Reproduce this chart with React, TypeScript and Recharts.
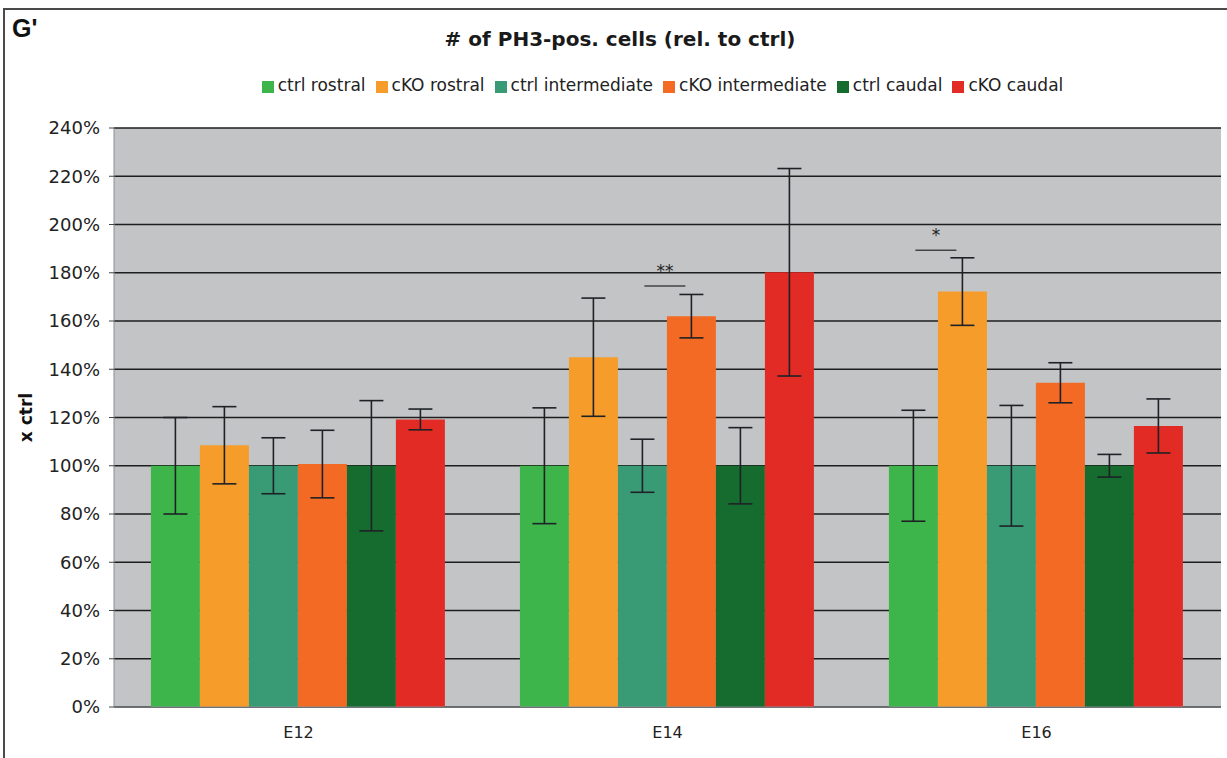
import React from "react";
import {
  BarChart,
  Bar,
  XAxis,
  YAxis,
  CartesianGrid,
  Legend,
  ErrorBar,
  LabelList
} from "recharts";

// stages on the x axis
const categories = ["E12", "E14", "E16"];

// mean values, % of ctrl
const ctrlRostral = [100, 100, 100];
const ckoRostral = [108.5, 145, 172.2];
const ctrlIntermediate = [100, 100, 100];
const ckoIntermediate = [100.7, 162, 134.4];
const ctrlCaudal = [100, 100, 100];
const ckoCaudal = [119.2, 180.2, 116.5];

// error bars (+/-)
const ctrlRostralErr = [20, 24, 23];
const ckoRostralErr = [16, 24.5, 14];
const ctrlIntermediateErr = [11.6, 11, 25];
const ckoIntermediateErr = [14, 9, 8.3];
const ctrlCaudalErr = [27, 15.8, 4.7];
const ckoCaudalErr = [4.3, 43, 11.2];

// significance brackets (level in %, label)
const sigIntermediateLevel = [null, 174.5, null];
const sigIntermediateText = ["", "**", ""];
const sigRostralLevel = [null, null, 189.3];
const sigRostralText = ["", "", "*"];

const yTicks = [0, 20, 40, 60, 80, 100, 120, 140, 160, 180, 200, 220, 240];

const series = [
  { key: "ctrlRostral", name: "ctrl rostral", color: "#3db54a" },
  { key: "ckoRostral", name: "cKO rostral", color: "#f69c2a" },
  { key: "ctrlIntermediate", name: "ctrl intermediate", color: "#399b76" },
  { key: "ckoIntermediate", name: "cKO intermediate", color: "#f26a23" },
  { key: "ctrlCaudal", name: "ctrl caudal", color: "#166c2e" },
  { key: "ckoCaudal", name: "cKO caudal", color: "#e32b25" }
];
const seriesNames = series.map((s) => s.name);

const data = categories.map((c, i) => ({
  stage: c,
  ctrlRostral: ctrlRostral[i],
  ckoRostral: ckoRostral[i],
  ctrlIntermediate: ctrlIntermediate[i],
  ckoIntermediate: ckoIntermediate[i],
  ctrlCaudal: ctrlCaudal[i],
  ckoCaudal: ckoCaudal[i],
  ctrlRostralErr: ctrlRostralErr[i],
  ckoRostralErr: ckoRostralErr[i],
  ctrlIntermediateErr: ctrlIntermediateErr[i],
  ckoIntermediateErr: ckoIntermediateErr[i],
  ctrlCaudalErr: ctrlCaudalErr[i],
  ckoCaudalErr: ckoCaudalErr[i],
  sigInt: sigIntermediateLevel[i],
  sigRos: sigRostralLevel[i]
}));

const FONT = "'DejaVu Sans', Verdana, sans-serif";

// draws a bracket from the ctrl bar (left neighbour) to this bar
function makeSig(valueKey: string, texts: string[]) {
  return (props: any) => {
    const { x, y, width, height, value, index } = props;
    if (value == null || index == null) return null;
    const barVal = (data as any)[index][valueKey];
    const ppu = height / barVal;
    const ly = y + height - value * ppu;
    const x1 = x - width / 2 + 2;
    const x2 = x + width / 2 - 6;
    return (
      <g>
        <line x1={x1} x2={x2} y1={ly} y2={ly} stroke="#444" strokeWidth={1.5} />
        <text
          x={(x1 + x2) / 2}
          y={ly - 9}
          textAnchor="middle"
          fontSize={17}
          fill="#222"
          fontFamily={FONT}
        >
          {texts[index]}
        </text>
      </g>
    );
  };
}

export default function App() {
  return (
    <div
      style={{
        position: "absolute",
        left: 0,
        top: 0,
        width: 1227,
        height: 758,
        background: "#fff",
        overflow: "hidden",
        fontFamily: FONT
      }}
    >
      <div
        style={{
          position: "absolute",
          left: 3,
          top: 8,
          width: 1240,
          height: 770,
          borderLeft: "2px solid #4a4a4a",
          borderTop: "2px solid #4a4a4a"
        }}
      />
      <div
        style={{
          position: "absolute",
          left: 12,
          top: 14,
          fontFamily: "'Liberation Sans', Arial, sans-serif",
          fontWeight: "bold",
          fontSize: 25,
          color: "#111"
        }}
      >
        G'
      </div>
      <div
        style={{
          position: "absolute",
          left: 320,
          width: 600,
          top: 27,
          textAlign: "center",
          fontWeight: "bold",
          fontSize: 20,
          color: "#1a1a1a"
        }}
      >
        # of PH3-pos. cells (rel. to ctrl)
      </div>
      <BarChart
        width={1227}
        height={758}
        data={data}
        margin={{ top: 128, right: 6, left: 0, bottom: 11 }}
        barCategoryGap="10%"
        barGap={0}
        style={{ position: "absolute", left: 0, top: 0 }}
      >
        <CartesianGrid
          vertical={false}
          stroke="#1e1e1e"
          strokeWidth={1.4}
          fill="#c3c4c6"
          fillOpacity={1}
        />
        <XAxis
          dataKey="stage"
          height={40}
          tickLine={false}
          axisLine={{ stroke: "#8a8f94" }}
          tick={{ fill: "#222", fontSize: 16, fontFamily: FONT }}
          tickMargin={14}
        />
        <YAxis
          width={114}
          domain={[0, 240]}
          ticks={yTicks}
          interval={0}
          tickFormatter={(v) => `${v}%`}
          tickLine={{ stroke: "#444" }}
          tickSize={5}
          tickMargin={9}
          axisLine={{ stroke: "#8a8f94" }}
          tick={{ fill: "#222", fontSize: 18, fontFamily: FONT }}
          label={{
            value: "x ctrl",
            angle: -90,
            position: "insideLeft",
            offset: 26,
            style: { fontWeight: "bold", fontSize: 17, fill: "#111", fontFamily: FONT, textAnchor: "middle" }
          }}
        />
        <Legend
          verticalAlign="middle"
          align="center"
          iconType="square"
          iconSize={12}
          itemSorter={(item: any) => seriesNames.indexOf(item.value)}
          wrapperStyle={{ top: 75, left: 114, width: 1107 }}
          formatter={(v) => (
            <span style={{ color: "#222", fontSize: 17, fontFamily: FONT }}>{v}</span>
          )}
        />
        {series.map((s) => (
          <Bar
            key={s.key}
            dataKey={s.key}
            name={s.name}
            fill={s.color}
            isAnimationActive={false}
          >
            <ErrorBar
              dataKey={s.key + "Err"}
              direction="y"
              width={12}
              stroke="#1e2226"
              strokeWidth={1.6}
            />
            {s.key === "ckoIntermediate" && (
              <LabelList dataKey="sigInt" content={makeSig("ckoIntermediate", sigIntermediateText)} />
            )}
            {s.key === "ckoRostral" && (
              <LabelList dataKey="sigRos" content={makeSig("ckoRostral", sigRostralText)} />
            )}
          </Bar>
        ))}
      </BarChart>
    </div>
  );
}
